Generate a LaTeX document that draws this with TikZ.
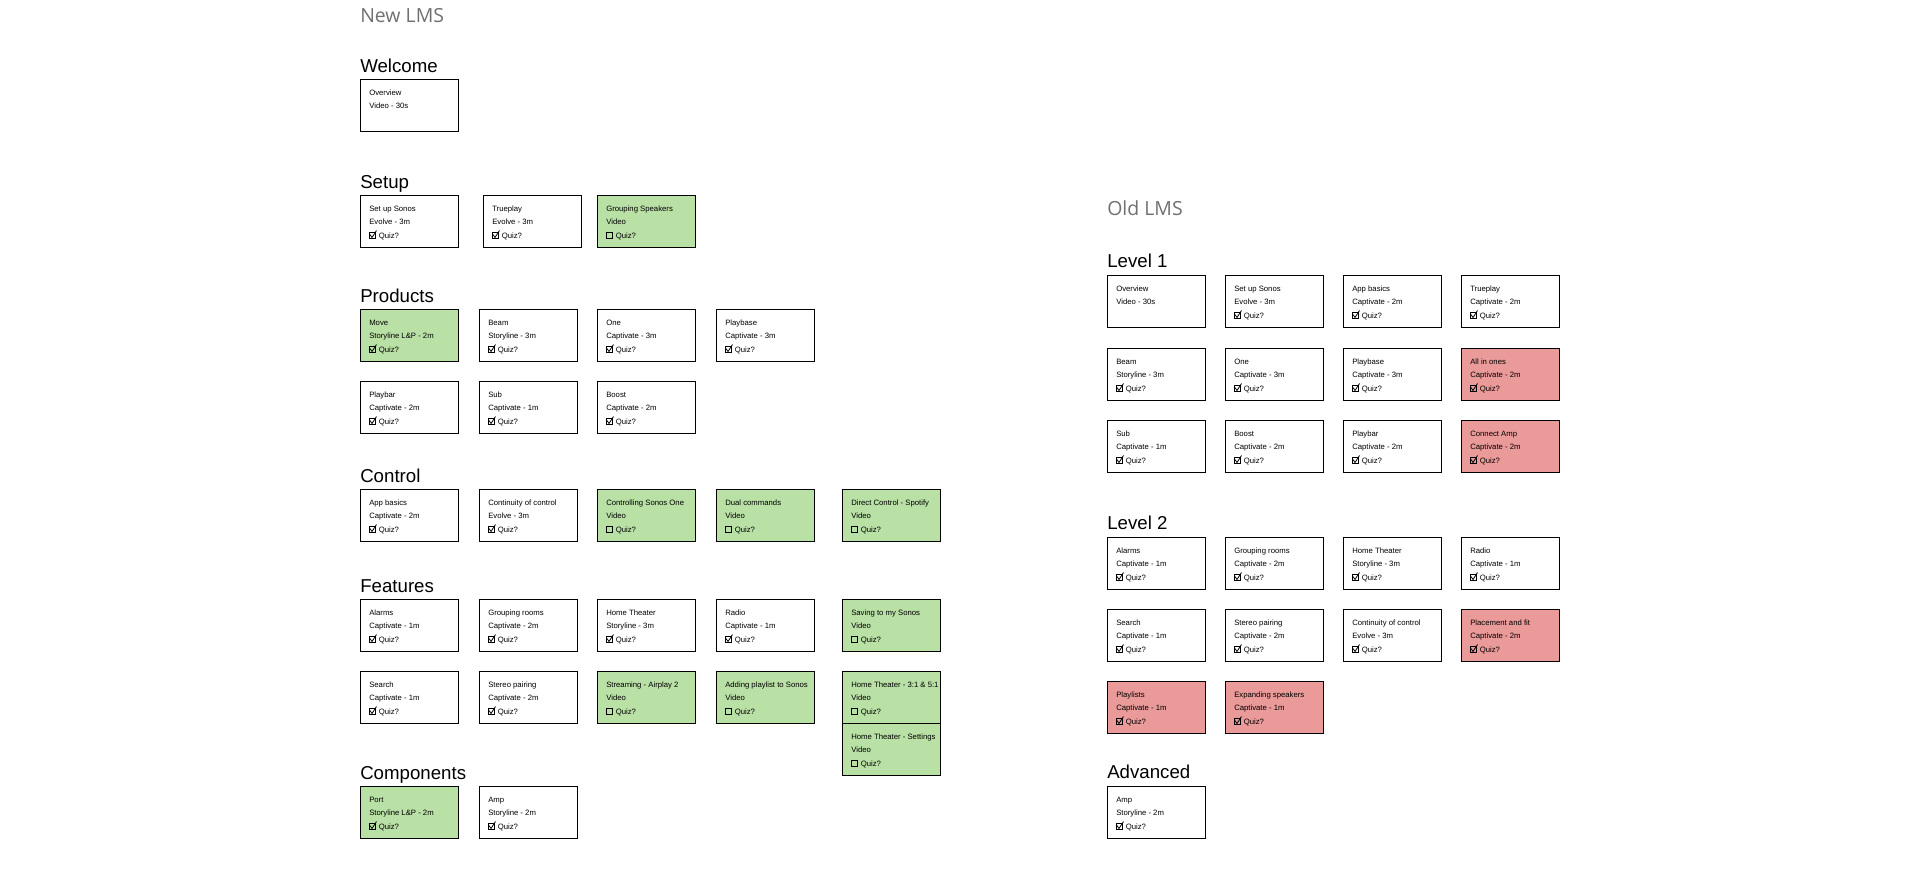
\documentclass[tikz,border=0pt]{standalone}
\usepackage{fontspec}
\setmainfont{Liberation Sans}
\newfontfamily\lmsfont{Open Sans}
\definecolor{donegreen}{HTML}{B9E0A5}
\definecolor{dropred}{HTML}{EA9A98}
\definecolor{titlegray}{HTML}{707070}
\tikzset{
  lessonbox/.style={draw=black, line width=1.1pt, anchor=north west,
    minimum width=73.5pt, minimum height=39pt, inner sep=0pt}
}
\newcommand{\quizyes}[1]{%
  \draw[quizbox] (9,37) rectangle (15,43);
  \draw[quiztick] (10,39.5) -- (12,42.5) -- (16.5,35.5);
  \node[lessontext] (#1-quiz) at (18.5,43.5) {Quiz?};%
}
\newcommand{\quizno}[1]{%
  \draw[quizbox] (9,37) rectangle (15,43);
  \node[lessontext] (#1-quiz) at (18.5,43.5) {Quiz?};%
}
\newcommand{\quiznone}[1]{}
\newcommand{\lesson}[7]{%
  \begin{scope}[shift={(#2,#3)}]
    \node[lessonbox, fill=#4] (#1) at (0,0) {};
    \node[lessontext] (#1-name) at (9,16) {#5};
    \node[lessontext] (#1-tool) at (9,29.5) {#6};
    #7{#1}
  \end{scope}%
}

\begin{document}
\begin{tikzpicture}[x=0.75pt,y=-0.75pt]

  % --- styles ---
  \tikzset{
    lessontext/.style={anchor=base west, inner sep=0pt, font=\fontsize{5.8}{7}\selectfont},
    quizbox/.style={draw=black, line width=0.55pt},
    quiztick/.style={draw=black, line width=0.6pt, line join=round},
    grouphead/.style={anchor=base west, inner sep=0pt, font=\fontsize{14}{16}\selectfont},
    lmstitle/.style={anchor=base west, inner sep=0pt, text=titlegray,
      font=\lmsfont\fontsize{14.6}{17}\selectfont},
  }

  % --- page ---
  \useasboundingbox (0,0) rectangle (1920,893);

  % =========================
  %  NEW LMS
  % =========================

  \node[lmstitle] (newlms) at (360,22.5) {New LMS};

  \node[grouphead] (welcome) at (360,72) {Welcome};
  \lesson{nwov}{360}{79}{white}{Overview}{Video - 30s}{\quiznone}

  \node[grouphead] (setup) at (360,188) {Setup};
  \lesson{nsetup}{360}{195}{white}{Set up Sonos}{Evolve - 3m}{\quizyes}
  \lesson{ntrue}{483}{195}{white}{Trueplay}{Evolve - 3m}{\quizyes}
  \lesson{ngroup}{597}{195}{donegreen}{Grouping Speakers}{Video}{\quizno}

  \node[grouphead] (products) at (360,302) {Products};
  \lesson{nmove}{360}{309}{donegreen}{Move}{Storyline L\&P - 2m}{\quizyes}
  \lesson{nbeam}{479}{309}{white}{Beam}{Storyline - 3m}{\quizyes}
  \lesson{none}{597}{309}{white}{One}{Captivate - 3m}{\quizyes}
  \lesson{nbase}{716}{309}{white}{Playbase}{Captivate - 3m}{\quizyes}
  \lesson{nbar}{360}{381}{white}{Playbar}{Captivate - 2m}{\quizyes}
  \lesson{nsub}{479}{381}{white}{Sub}{Captivate - 1m}{\quizyes}
  \lesson{nboost}{597}{381}{white}{Boost}{Captivate - 2m}{\quizyes}

  \node[grouphead] (control) at (360,482) {Control};
  \lesson{napp}{360}{489}{white}{App basics}{Captivate - 2m}{\quizyes}
  \lesson{ncont}{479}{489}{white}{Continuity of control}{Evolve - 3m}{\quizyes}
  \lesson{nctrl}{597}{489}{donegreen}{Controlling Sonos One}{Video}{\quizno}
  \lesson{ndual}{716}{489}{donegreen}{Dual commands}{Video}{\quizno}
  \lesson{nspot}{842}{489}{donegreen}{Direct Control - Spotify}{Video}{\quizno}

  \node[grouphead] (features) at (360,592) {Features};
  \lesson{nalarm}{360}{599}{white}{Alarms}{Captivate - 1m}{\quizyes}
  \lesson{nrooms}{479}{599}{white}{Grouping rooms}{Captivate - 2m}{\quizyes}
  \lesson{nht}{597}{599}{white}{Home Theater}{Storyline - 3m}{\quizyes}
  \lesson{nradio}{716}{599}{white}{Radio}{Captivate - 1m}{\quizyes}
  \lesson{nsave}{842}{599}{donegreen}{Saving to my Sonos}{Video}{\quizno}
  \lesson{nsearch}{360}{671}{white}{Search}{Captivate - 1m}{\quizyes}
  \lesson{nstereo}{479}{671}{white}{Stereo pairing}{Captivate - 2m}{\quizyes}
  \lesson{nair}{597}{671}{donegreen}{Streaming - Airplay 2}{Video}{\quizno}
  \lesson{nplay}{716}{671}{donegreen}{Adding playlist to Sonos}{Video}{\quizno}
  \lesson{nhtfive}{842}{671}{donegreen}{Home Theater - 3:1 \& 5:1}{Video}{\quizno}
  \lesson{nhtset}{842}{723}{donegreen}{Home Theater - Settings}{Video}{\quizno}

  \node[grouphead] (components) at (360,779) {Components};
  \lesson{nport}{360}{786}{donegreen}{Port}{Storyline L\&P - 2m}{\quizyes}
  \lesson{namp}{479}{786}{white}{Amp}{Storyline - 2m}{\quizyes}

  % =========================
  %  OLD LMS
  % =========================

  \node[lmstitle] (oldlms) at (1107,215) {Old LMS};

  \node[grouphead] (levelone) at (1107,267) {Level 1};
  \lesson{oov}{1107}{275}{white}{Overview}{Video - 30s}{\quiznone}
  \lesson{osetup}{1225}{275}{white}{Set up Sonos}{Evolve - 3m}{\quizyes}
  \lesson{oapp}{1343}{275}{white}{App basics}{Captivate - 2m}{\quizyes}
  \lesson{otrue}{1461}{275}{white}{Trueplay}{Captivate - 2m}{\quizyes}
  \lesson{obeam}{1107}{348}{white}{Beam}{Storyline - 3m}{\quizyes}
  \lesson{oone}{1225}{348}{white}{One}{Captivate - 3m}{\quizyes}
  \lesson{obase}{1343}{348}{white}{Playbase}{Captivate - 3m}{\quizyes}
  \lesson{oallin}{1461}{348}{dropred}{All in ones}{Captivate - 2m}{\quizyes}
  \lesson{osub}{1107}{420}{white}{Sub}{Captivate - 1m}{\quizyes}
  \lesson{oboost}{1225}{420}{white}{Boost}{Captivate - 2m}{\quizyes}
  \lesson{obar}{1343}{420}{white}{Playbar}{Captivate - 2m}{\quizyes}
  \lesson{oamp}{1461}{420}{dropred}{Connect Amp}{Captivate - 2m}{\quizyes}

  \node[grouphead] (leveltwo) at (1107,529) {Level 2};
  \lesson{oalarm}{1107}{537}{white}{Alarms}{Captivate - 1m}{\quizyes}
  \lesson{orooms}{1225}{537}{white}{Grouping rooms}{Captivate - 2m}{\quizyes}
  \lesson{oht}{1343}{537}{white}{Home Theater}{Storyline - 3m}{\quizyes}
  \lesson{oradio}{1461}{537}{white}{Radio}{Captivate - 1m}{\quizyes}
  \lesson{osearch}{1107}{609}{white}{Search}{Captivate - 1m}{\quizyes}
  \lesson{ostereo}{1225}{609}{white}{Stereo pairing}{Captivate - 2m}{\quizyes}
  \lesson{ocont}{1343}{609}{white}{Continuity of control}{Evolve - 3m}{\quizyes}
  \lesson{ofit}{1461}{609}{dropred}{Placement and fit}{Captivate - 2m}{\quizyes}
  \lesson{oplay}{1107}{681}{dropred}{Playlists}{Captivate - 1m}{\quizyes}
  \lesson{oexp}{1225}{681}{dropred}{Expanding speakers}{Captivate - 1m}{\quizyes}

  \node[grouphead] (advanced) at (1107,778) {Advanced};
  \lesson{oadv}{1107}{786}{white}{Amp}{Storyline - 2m}{\quizyes}

\end{tikzpicture}
\end{document}
